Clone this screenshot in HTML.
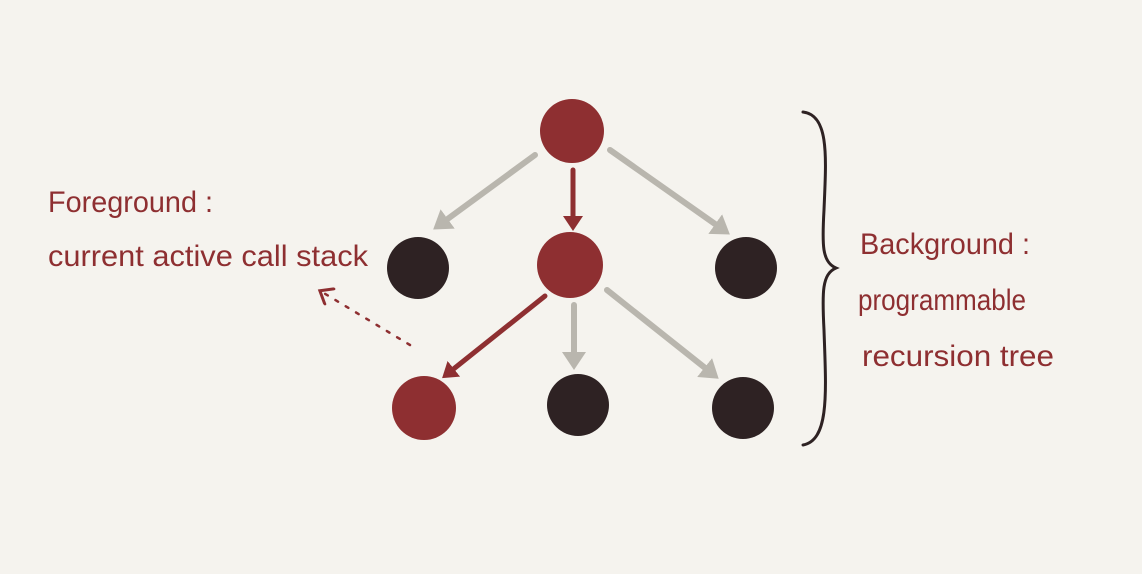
<!DOCTYPE html>
<html><head><meta charset="utf-8"><style>
html,body{margin:0;padding:0;background:#f5f3ee;}
body{width:1142px;height:574px;overflow:hidden;position:relative;}
svg{position:absolute;left:0;top:0;}
text{font-family:"Liberation Sans",sans-serif;fill:#8e2f31;}
</style></head><body>
<svg width="1142" height="574" viewBox="0 0 1142 574">
<defs>
<marker id="g" markerWidth="4" markerHeight="4" refX="2" refY="2" orient="auto" markerUnits="strokeWidth"><path d="M0,0 L3,2 L0,4 Z" fill="#b9b6ae"/></marker>
<marker id="r" markerWidth="4" markerHeight="4" refX="2" refY="2" orient="auto" markerUnits="strokeWidth"><path d="M0,0 L3,2 L0,4 Z" fill="#8e2f31"/></marker>
<marker id="d" markerWidth="8" markerHeight="8" refX="4" refY="4" orient="auto" markerUnits="strokeWidth"><path d="M0,0 L5,4 L0,8" fill="none" stroke="#8e2f31" stroke-width="1.2"/></marker>
</defs>
<g stroke-linecap="round">
<line x1="535" y1="155" x2="438" y2="226" stroke="#b9b6ae" stroke-width="6" marker-end="url(#g)"/>
<line x1="610" y1="150" x2="725" y2="231" stroke="#b9b6ae" stroke-width="6" marker-end="url(#g)"/>
<line x1="573" y1="170" x2="573" y2="226" stroke="#8e2f31" stroke-width="5" marker-end="url(#r)"/>
<line x1="545" y1="296" x2="446" y2="375" stroke="#8e2f31" stroke-width="5" marker-end="url(#r)"/>
<line x1="574" y1="305" x2="574" y2="364" stroke="#b9b6ae" stroke-width="6" marker-end="url(#g)"/>
<line x1="607" y1="290" x2="714" y2="375" stroke="#b9b6ae" stroke-width="6" marker-end="url(#g)"/>
<line x1="410" y1="345" x2="322" y2="292" stroke="#8e2f31" stroke-width="2.5" stroke-dasharray="3 9" marker-end="url(#d)"/>
</g>
<circle cx="572" cy="131" r="32" fill="#8e2f31"/>
<circle cx="570" cy="265" r="33" fill="#8e2f31"/>
<circle cx="418" cy="268" r="31" fill="#2e2223"/>
<circle cx="746" cy="268" r="31" fill="#2e2223"/>
<circle cx="424" cy="408" r="32" fill="#8e2f31"/>
<circle cx="578" cy="405" r="31" fill="#2e2223"/>
<circle cx="743" cy="408" r="31" fill="#2e2223"/>
<path d="M803,112 C830,115 826,160 824,210 C822,245 822,262 836,268 C822,274 822,292 824,330 C826,390 830,440 803,445" fill="none" stroke="#2e2223" stroke-width="3" stroke-linecap="round"/>
<text x="48" y="212" font-size="30" textLength="165" lengthAdjust="spacingAndGlyphs">Foreground :</text>
<text x="48" y="266" font-size="30" textLength="320" lengthAdjust="spacingAndGlyphs">current active call stack</text>
<text x="860" y="254" font-size="30" textLength="170" lengthAdjust="spacingAndGlyphs">Background :</text>
<text x="858" y="310" font-size="30" textLength="168" lengthAdjust="spacingAndGlyphs">programmable</text>
<text x="862" y="366" font-size="30" textLength="192" lengthAdjust="spacingAndGlyphs">recursion tree</text>
</svg>
</body></html>
